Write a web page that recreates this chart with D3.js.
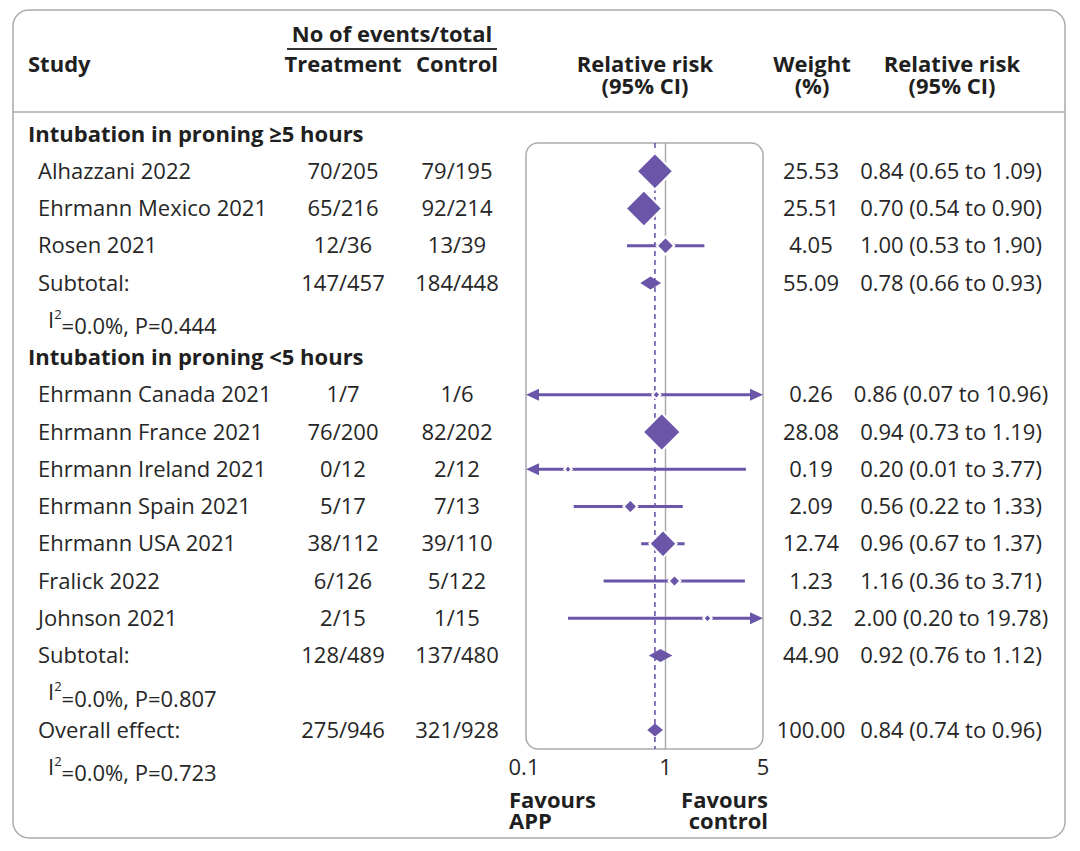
<!DOCTYPE html>
<html>
<head>
<meta charset="utf-8">
<script src="https://cdn.jsdelivr.net/npm/d3@7"></script>
<style>
  body { margin: 0; background: #fff; }
  svg text { font-family: "Open Sans", "Noto Sans", sans-serif; fill: #262626; }
  .bold { font-weight: 700; fill: #1f1f1f; }
</style>
</head>
<body>
<script>
// data
const groupNames = ["Intubation in proning \u22655 hours", "Intubation in proning <5 hours"];
const studyNames = ["Alhazzani 2022", "Ehrmann Mexico 2021", "Rosen 2021",
    "Ehrmann Canada 2021", "Ehrmann France 2021", "Ehrmann Ireland 2021",
    "Ehrmann Spain 2021", "Ehrmann USA 2021", "Fralick 2022", "Johnson 2021"];
const studyGroup = [0, 0, 0, 1, 1, 1, 1, 1, 1, 1];
const treatment = ["70/205", "65/216", "12/36", "1/7", "76/200", "0/12", "5/17", "38/112", "6/126", "2/15"];
const control = ["79/195", "92/214", "13/39", "1/6", "82/202", "2/12", "7/13", "39/110", "5/122", "1/15"];
const weight = [25.53, 25.51, 4.05, 0.26, 28.08, 0.19, 2.09, 12.74, 1.23, 0.32];
const rr = [0.84, 0.70, 1.00, 0.86, 0.94, 0.20, 0.56, 0.96, 1.16, 2.00];
const ciLow = [0.65, 0.54, 0.53, 0.07, 0.73, 0.01, 0.22, 0.67, 0.36, 0.20];
const ciHigh = [1.09, 0.90, 1.90, 10.96, 1.19, 3.77, 1.33, 1.37, 3.71, 19.78];

const subTreatment = ["147/457", "128/489"];
const subControl = ["184/448", "137/480"];
const subWeight = [55.09, 44.90];
const subRR = [0.78, 0.92];
const subLow = [0.66, 0.76];
const subHigh = [0.93, 1.12];
const subP = ["0.444", "0.807"];

const overall = { treatment: "275/946", control: "321/928", weight: 100.00, rr: 0.84, lo: 0.74, hi: 0.96, p: "0.723" };
const i2 = "0.0%";
const axisTicks = [0.1, 1, 5];

const W = 1080, H = 851;
const purple = "#6a55a8";
const grey = "#ababab";
const fs = 22;

const svg = d3.select("body").append("svg")
    .attr("width", W)
    .attr("height", H);

// build the list of rows
const rows = [];
groupNames.forEach((g, gi) => {
    rows.push({ type: "group", label: g });
    studyNames.forEach((s, i) => {
        if (studyGroup[i] !== gi) return;
        rows.push({ type: "study", label: s, t: treatment[i], c: control[i], w: weight[i], rr: rr[i], lo: ciLow[i], hi: ciHigh[i] });
    });
    rows.push({ type: "sub", label: "Subtotal:", t: subTreatment[gi], c: subControl[gi], w: subWeight[gi], rr: subRR[gi], lo: subLow[gi], hi: subHigh[gi] });
    rows.push({ type: "het", p: subP[gi] });
});
rows.push({ type: "sub", label: "Overall effect:", t: overall.treatment, c: overall.control, w: overall.weight, rr: overall.rr, lo: overall.lo, hi: overall.hi });
rows.push({ type: "het", p: overall.p });

const y = i => 134 + i * 37.25;
const x = d3.scaleLog().domain([0.1, 5]).range([526, 763]);
const size = d3.scaleSqrt().domain([0, d3.max(weight)]).range([5, 38]);

const plotTop = 143, plotBottom = 749;

// outer frame and header rule
svg.append("rect")
    .attr("x", 13).attr("y", 10).attr("width", 1052).attr("height", 828)
    .attr("rx", 16)
    .attr("fill", "none").attr("stroke", grey).attr("stroke-width", 1.5);
svg.append("line")
    .attr("x1", 13).attr("x2", 1065).attr("y1", 112).attr("y2", 112)
    .attr("stroke", grey).attr("stroke-width", 1.5);

// header
const header = svg.append("g").attr("font-size", fs);
header.append("text").attr("class", "bold").attr("x", 392).attr("y", 42).attr("text-anchor", "middle").text("No of events/total");
header.append("line").attr("x1", 287).attr("x2", 497).attr("y1", 49).attr("y2", 49).attr("stroke", "#333").attr("stroke-width", 2);
header.append("text").attr("class", "bold").attr("x", 28).attr("y", 72).text("Study");
header.append("text").attr("class", "bold").attr("x", 343).attr("y", 72).attr("text-anchor", "middle").text("Treatment");
header.append("text").attr("class", "bold").attr("x", 457).attr("y", 72).attr("text-anchor", "middle").text("Control");
[[645, "Relative risk", "(95% CI)"], [812, "Weight", "(%)"], [952, "Relative risk", "(95% CI)"]].forEach(([cx, a, b]) => {
    header.append("text").attr("class", "bold").attr("x", cx).attr("y", 72).attr("text-anchor", "middle").text(a);
    header.append("text").attr("class", "bold").attr("x", cx).attr("y", 94).attr("text-anchor", "middle").text(b);
});

// plot box and reference lines
svg.append("rect")
    .attr("x", x(0.1)).attr("y", plotTop)
    .attr("width", x(5) - x(0.1)).attr("height", plotBottom - plotTop)
    .attr("rx", 12)
    .attr("fill", "none").attr("stroke", grey).attr("stroke-width", 1.5);
svg.append("line")
    .attr("x1", x(1)).attr("x2", x(1)).attr("y1", plotTop).attr("y2", plotBottom)
    .attr("stroke", grey).attr("stroke-width", 1.5);
svg.append("line")
    .attr("x1", x(overall.rr)).attr("x2", x(overall.rr)).attr("y1", plotTop).attr("y2", plotBottom)
    .attr("stroke", purple).attr("stroke-width", 1.6).attr("stroke-dasharray", "5,4");

// table text
const table = svg.append("g").attr("font-size", fs);
rows.forEach((r, i) => {
    const yy = y(i);
    if (r.type === "group") {
        table.append("text").attr("class", "bold").attr("x", 28).attr("y", yy).attr("dy", "0.35em").text(r.label);
        return;
    }
    if (r.type === "het") {
        const t = table.append("text").attr("x", 48).attr("y", yy).attr("dy", "0.35em");
        t.append("tspan").text("I");
        t.append("tspan").attr("font-size", 13).attr("dy", "-0.7em").text("2");
        t.append("tspan").attr("dy", "0.7em").text(`=${i2}, P=${r.p}`);
        return;
    }
    table.append("text").attr("x", 38).attr("y", yy).attr("dy", "0.35em").text(r.label);
    table.append("text").attr("x", 343).attr("y", yy).attr("dy", "0.35em").attr("text-anchor", "middle").text(r.t);
    table.append("text").attr("x", 457).attr("y", yy).attr("dy", "0.35em").attr("text-anchor", "middle").text(r.c);
    table.append("text").attr("x", 811).attr("y", yy).attr("dy", "0.35em").attr("text-anchor", "middle").text(r.w.toFixed(2));
    table.append("text").attr("x", 951).attr("y", yy).attr("dy", "0.35em").attr("text-anchor", "middle")
        .text(`${r.rr.toFixed(2)} (${r.lo.toFixed(2)} to ${r.hi.toFixed(2)})`);
});

// marks
const marks = svg.append("g");
const [dMin, dMax] = x.domain();
rows.forEach((r, i) => {
    const yy = y(i);
    if (r.type === "study") {
        const x1 = x(Math.max(r.lo, dMin)), x2 = x(Math.min(r.hi, dMax));
        const a1 = r.lo < dMin ? 10 : 0, a2 = r.hi > dMax ? 10 : 0;
        marks.append("line")
            .attr("x1", x1 + a1).attr("x2", x2 - a2).attr("y1", yy).attr("y2", yy)
            .attr("stroke", purple).attr("stroke-width", 3);
        if (a1) marks.append("path").attr("d", `M${x1},${yy}L${x1 + 13},${yy - 6}L${x1 + 13},${yy + 6}Z`).attr("fill", purple);
        if (a2) marks.append("path").attr("d", `M${x2},${yy}L${x2 - 13},${yy - 6}L${x2 - 13},${yy + 6}Z`).attr("fill", purple);
        const h = size(r.w) / 2, cx = x(r.rr);
        marks.append("path")
            .attr("d", `M${cx},${yy - h}L${cx + h},${yy}L${cx},${yy + h}L${cx - h},${yy}Z`)
            .attr("fill", purple).attr("stroke", "#fff").attr("stroke-width", 2);
    } else if (r.type === "sub") {
        const l = x(r.lo), c = x(r.rr), rt = x(r.hi);
        marks.append("path")
            .attr("d", `M${l},${yy}L${c},${yy - 6.5}L${rt},${yy}L${c},${yy + 6.5}Z`)
            .attr("fill", purple);
    }
});

// axis labels
const axisG = svg.append("g").attr("font-size", fs);
axisTicks.forEach(t => {
    axisG.append("text").attr("x", x(t) - (t === 0.1 ? 2 : 0)).attr("y", y(17)).attr("dy", "0.35em")
        .attr("text-anchor", "middle").text(d3.format("~g")(t));
});
axisG.append("text").attr("class", "bold").attr("x", 509).attr("y", 808).text("Favours");
axisG.append("text").attr("class", "bold").attr("x", 509).attr("y", 829).text("APP");
axisG.append("text").attr("class", "bold").attr("x", 768).attr("y", 808).attr("text-anchor", "end").text("Favours");
axisG.append("text").attr("class", "bold").attr("x", 768).attr("y", 829).attr("text-anchor", "end").text("control");
</script>
</body>
</html>
